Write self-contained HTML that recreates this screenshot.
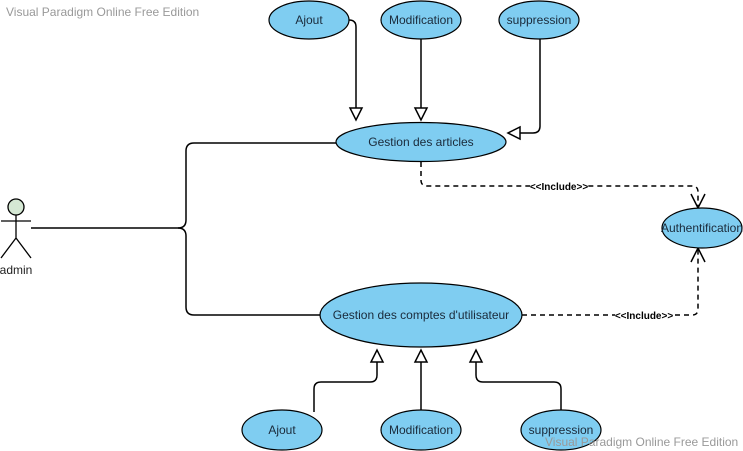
<!DOCTYPE html>
<html><head><style>body{margin:0;background:#fff}svg{display:block}</style></head><body>
<svg width="743" height="451" viewBox="0 0 743 451" xmlns="http://www.w3.org/2000/svg" font-family="Liberation Sans, sans-serif">
<g fill="none" stroke="#000" stroke-width="1.5">
<path d="M31 228 H178 Q186 228 186 220 V151 Q186 143 194 143 H336"/>
<path d="M178 228 Q186 228 186 236 V307 Q186 315 194 315 H320"/>
<path d="M349 20 Q356 20 356 27 V108"/>
<path d="M421 39 V108"/>
<path d="M540 39 V126 Q540 133 533 133 H520"/>
<path d="M314 412 V389 Q314 382 321 382 H370 Q377 382 377 375 V362"/>
<path d="M421 410 V362"/>
<path d="M561 410 V389 Q561 382 554 382 H483 Q476 382 476 375 V362"/>
</g>
<g fill="#fff" stroke="#000" stroke-width="1.5">
<path d="M350 108 H362 L356 120 Z"/>
<path d="M415 108 H427 L421 120 Z"/>
<path d="M520 127 V139 L508 133 Z"/>
<path d="M371 362 H383 L377 350 Z"/>
<path d="M415 362 H427 L421 350 Z"/>
<path d="M470 362 H482 L476 350 Z"/>
</g>
<g fill="none" stroke="#000" stroke-width="1.5" stroke-dasharray="5,4">
<path d="M421 162 V180 Q421 186 427 186 H692 Q698 186 698 192 V208"/>
<path d="M522 315 H692 Q698 315 698 309 V249"/>
</g>
<g fill="none" stroke="#000" stroke-width="1.5">
<path d="M691 194 L698 208 L705 194"/>
<path d="M691 262 L698 248 L705 262"/>
</g>
<g fill="#7fcdf1" stroke="#000" stroke-width="1.2">
<ellipse cx="309" cy="20" rx="40" ry="19"/>
<ellipse cx="421" cy="20" rx="40" ry="19"/>
<ellipse cx="539" cy="20" rx="40" ry="19"/>
<ellipse cx="421" cy="142" rx="85" ry="19.5"/>
<ellipse cx="421" cy="315" rx="101" ry="32"/>
<ellipse cx="702" cy="228" rx="40" ry="20"/>
<ellipse cx="282" cy="430" rx="40" ry="20"/>
<ellipse cx="421" cy="430" rx="40" ry="20"/>
<ellipse cx="561" cy="430" rx="40" ry="20"/>
</g>
<g font-size="12" fill="#1a2a3a" text-anchor="middle">
<text x="309" y="24">Ajout</text>
<text x="421" y="24">Modification</text>
<text x="539" y="24">suppression</text>
<text x="421" y="146">Gestion des articles</text>
<text x="421" y="319">Gestion des comptes d'utilisateur</text>
<text x="702" y="232">Authentification</text>
<text x="282" y="434">Ajout</text>
<text x="421" y="434">Modification</text>
<text x="561" y="434">suppression</text>
</g>
<g font-size="10" font-weight="bold" fill="#000" text-anchor="middle">
<rect x="530" y="181" width="58" height="10" fill="#fff"/>
<text x="559" y="190">&lt;&lt;Include&gt;&gt;</text>
<rect x="615" y="310" width="58" height="10" fill="#fff"/>
<text x="644" y="319">&lt;&lt;Include&gt;&gt;</text>
</g>
<g stroke="#000" stroke-width="1.3" fill="none">
<circle cx="16" cy="207" r="8" fill="#d5e8d4"/>
<path d="M16 215 V238 M1 221 H31 M16 238 L1 258 M16 238 L31 258"/>
</g>
<text x="16" y="274" font-size="12" text-anchor="middle" fill="#222">admin</text>
<g font-size="12" fill="#999">
<text x="6" y="16">Visual Paradigm Online Free Edition</text>
<text x="545" y="446">Visual Paradigm Online Free Edition</text>
</g>
</svg>
</body></html>
